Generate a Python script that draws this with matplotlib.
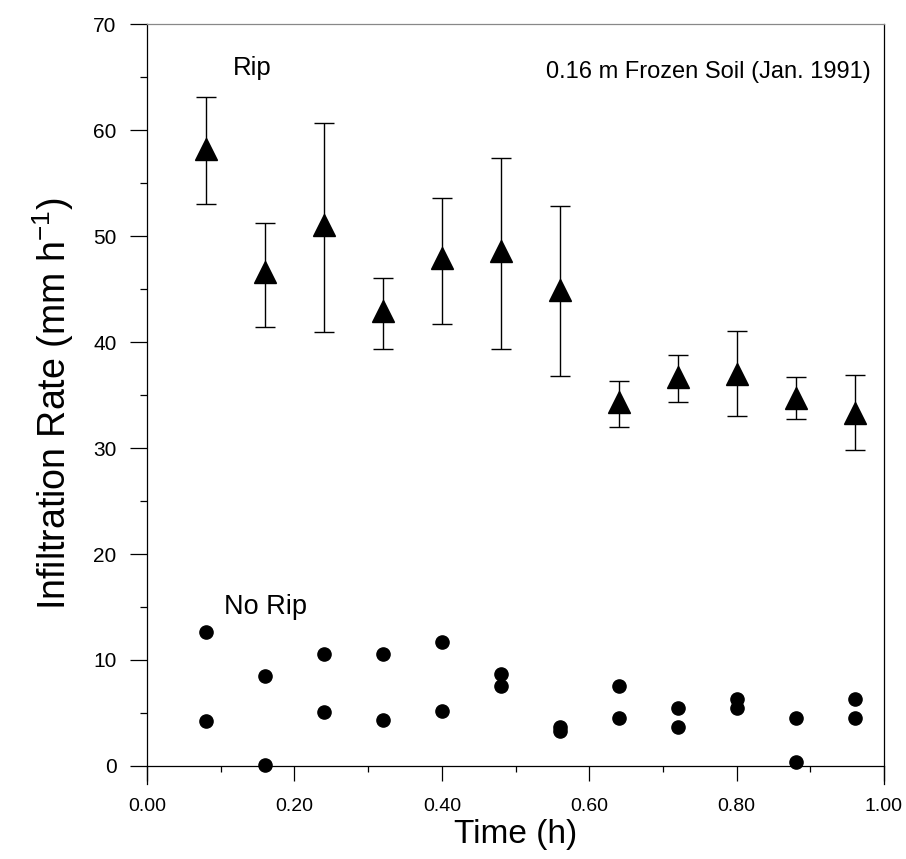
import matplotlib
matplotlib.use("Agg")
import matplotlib.pyplot as plt
from matplotlib.ticker import MultipleLocator, FormatStrFormatter

# Data
time_h = [0.08, 0.16, 0.24, 0.32, 0.40, 0.48, 0.56, 0.64, 0.72, 0.80, 0.88, 0.96]

rip_mean = [58.2, 46.6, 51.0, 42.9, 47.9, 48.6, 44.9, 34.3, 36.7, 37.0, 34.7, 33.3]
rip_upper = [63.1, 51.2, 60.7, 46.0, 53.6, 57.4, 52.8, 36.3, 38.8, 41.0, 36.7, 36.9]
rip_lower = [53.0, 41.4, 40.9, 39.3, 41.7, 39.3, 36.8, 32.0, 34.3, 33.0, 32.7, 29.8]

norip_a = [12.6, 8.5, 10.6, 10.6, 11.7, 8.7, 3.65, 7.55, 5.5, 6.3, 4.5, 6.3]
norip_b = [4.2, 0.1, 5.1, 4.35, 5.2, 7.5, 3.3, 4.5, 3.65, 5.5, 0.4, 4.5]

x_ticks = [0.0, 0.2, 0.4, 0.6, 0.8, 1.0]
y_ticks = [0, 10, 20, 30, 40, 50, 60, 70]

plt.rcParams["font.family"] = ["Liberation Sans", "DejaVu Sans"]
plt.rcParams["mathtext.fontset"] = "custom"
plt.rcParams["mathtext.rm"] = "Liberation Sans"
plt.rcParams["mathtext.it"] = "Liberation Sans:italic"

fig = plt.figure(figsize=(9.06, 8.59), dpi=100)
ax = fig.add_axes([0.1623, 0.0873, 0.8134, 0.8847])

# Rip: means with asymmetric error bars
err_lo = [m - lo for m, lo in zip(rip_mean, rip_lower)]
err_hi = [hi - m for m, hi in zip(rip_mean, rip_upper)]
ax.errorbar(time_h, rip_mean, yerr=[err_lo, err_hi], fmt="^", color="black",
            markersize=16, elinewidth=1.0, capsize=7.5, capthick=1.0, zorder=3)

# No rip: two replicate measurements per time
ax.plot(time_h, norip_a, "o", color="black", markersize=9.5, zorder=3)
ax.plot(time_h, norip_b, "o", color="black", markersize=9.5, zorder=3)

ax.set_xlim(0, 1.0)
ax.set_ylim(-1.7, 70)

# x axis sits on y = 0, side spines run a bit below it
ax.spines["bottom"].set_position(("data", 0))
for side in ["left", "right", "top", "bottom"]:
    ax.spines[side].set_linewidth(0.9)
ax.spines["top"].set_color("#888888")

ax.set_xticks(x_ticks)
ax.xaxis.set_major_formatter(FormatStrFormatter("%.2f"))
ax.xaxis.set_minor_locator(MultipleLocator(0.1))
ax.set_yticks(y_ticks)
ax.yaxis.set_minor_locator(MultipleLocator(5))

ax.tick_params(axis="x", which="major", direction="out", length=11, width=0.9,
               pad=12, labelsize=14)
ax.tick_params(axis="x", which="minor", direction="out", length=4, width=0.9)
ax.tick_params(axis="y", which="major", direction="out", length=12, width=0.9,
               pad=10, labelsize=15)
ax.tick_params(axis="y", which="minor", direction="out", length=5, width=0.9)

ax.set_xlabel("Time (h)", fontsize=24, labelpad=3)
ax.set_ylabel(r"Infiltration Rate (mm h$^{-1}$)", fontsize=27, labelpad=12)

ax.text(0.116, 65.9, "Rip", fontsize=18.5, ha="left", va="center")
ax.text(0.104, 15.0, "No Rip", fontsize=19.5, ha="left", va="center")
ax.text(0.982, 65.5, "0.16 m Frozen Soil (Jan. 1991)", fontsize=17,
        ha="right", va="center")

fig.savefig("out.png", dpi=100)
